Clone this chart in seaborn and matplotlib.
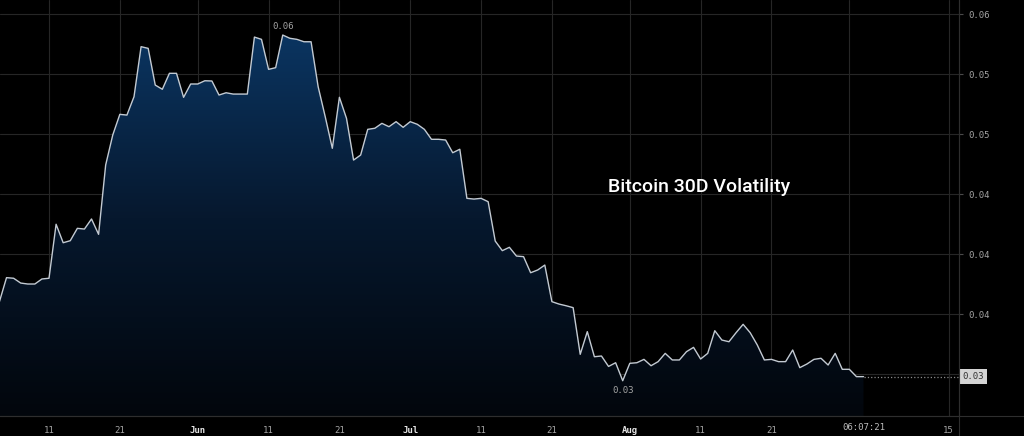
import matplotlib
matplotlib.use("Agg")
import matplotlib.dates as mdates
import matplotlib.pyplot as plt
import matplotlib.transforms as mtransforms
import numpy as np
import pandas as pd
import seaborn as sns
from matplotlib.colors import LinearSegmentedColormap
from matplotlib.lines import Line2D

# daily 30D volatility
start_date = "2021-05-04"
volatility = [
    0.03603, 0.03803, 0.03798, 0.03758, 0.03750, 0.03750, 0.03792, 0.03798,
    0.04248, 0.04094, 0.04111, 0.04214, 0.04208, 0.04292, 0.04164, 0.04742,
    0.04992, 0.05164, 0.05158, 0.05311, 0.05728, 0.05714, 0.05408, 0.05373,
    0.05506, 0.05506, 0.05306, 0.05417, 0.05417, 0.05444, 0.05442, 0.05325,
    0.05344, 0.05333, 0.05333, 0.05333, 0.05808, 0.05789, 0.05539, 0.05553,
    0.05825, 0.05798, 0.05789, 0.05769, 0.05769, 0.05394, 0.05144, 0.04881,
    0.05306, 0.05131, 0.04783, 0.04825, 0.05039, 0.05048, 0.05089, 0.05061,
    0.05103, 0.05056, 0.05103, 0.05081, 0.05039, 0.04956, 0.04956, 0.04950,
    0.04844, 0.04873, 0.04464, 0.04458, 0.04464, 0.04436, 0.04108, 0.04028,
    0.04056, 0.03983, 0.03978, 0.03844, 0.03867, 0.03908, 0.03603, 0.03583,
    0.03569, 0.03553, 0.03164, 0.03353, 0.03144, 0.03150, 0.03063, 0.03094,
    0.02944, 0.03089, 0.03094, 0.03122, 0.03069, 0.03103, 0.03172, 0.03117,
    0.03117, 0.03186, 0.03222, 0.03125, 0.03172, 0.03361, 0.03283, 0.03269,
    0.03344, 0.03414, 0.03344, 0.03242, 0.03117, 0.03122, 0.03103, 0.03103,
    0.03200, 0.03053, 0.03083, 0.03122, 0.03131, 0.03075, 0.03172, 0.03039,
    0.03039, 0.02978, 0.02978,
]

ytick_values = [0.030, 0.035, 0.040, 0.045, 0.050, 0.055, 0.060]
ytick_labels = ["0.03", "0.04", "0.04", "0.04", "0.05", "0.05", "0.06"]
xtick_dates = ["2021-05-11", "2021-05-21", "2021-06-01", "2021-06-11", "2021-06-21",
               "2021-07-01", "2021-07-11", "2021-07-21", "2021-08-01", "2021-08-11",
               "2021-08-21", "2021-09-01", "2021-09-15"]
xtick_labels = ["11", "21", "Jun", "11", "21", "Jul", "11", "21", "Aug", "11", "21", "", "15"]
month_labels = {"Jun", "Jul", "Aug"}
title = "Bitcoin 30D Volatility"
max_label = "0.06"
min_label = "0.03"
last_value_label = "0.03"
last_date_label = "06:07:21"

grid_color = "#262626"
label_color = "#a4a4a4"

sns.set_theme(style="dark", rc={"axes.facecolor": "black", "figure.facecolor": "black"})
plt.rcParams["font.family"] = ["DejaVu Sans Mono", "DejaVu Sans"]

df = pd.DataFrame({"date": pd.date_range(start_date, periods=len(volatility), freq="D"),
                   "vol": volatility})

fig = plt.figure(figsize=(10.24, 4.36), dpi=100, facecolor="black")
ax = fig.add_axes([0, 20 / 436, 959 / 1024, 416 / 436])
ax.set_facecolor("black")

x0 = mdates.date2num(pd.Timestamp(start_date)) + 0.08
x1 = x0 + 135.4
y0, y1 = 0.0265, 0.06117

# gradient fill under the line
poly = ax.fill_between(df["date"], df["vol"], y0, facecolor="none", edgecolor="none")
cmap = LinearSegmentedColormap.from_list("fade", ["#02060c", "#06182e", "#0b3765"])
grad = np.linspace(0, 1, 256).reshape(-1, 1)
img = ax.imshow(grad, extent=[x0, x1, y0, 0.0595], origin="lower", aspect="auto",
                cmap=cmap, zorder=1)
img.set_clip_path(poly.get_paths()[0], transform=ax.transData)

sns.lineplot(data=df, x="date", y="vol", ax=ax, color="#c3cad2", linewidth=1.0, zorder=3)

ax.set_xlim(x0, x1)
ax.set_ylim(y0, y1)
ax.set_xlabel("")
ax.set_ylabel("")

ax.set_xticks(mdates.date2num(pd.to_datetime(xtick_dates)))
ax.set_xticklabels(xtick_labels)
ax.yaxis.tick_right()
ax.set_yticks(ytick_values)
ax.set_yticklabels(ytick_labels)
ax.tick_params(axis="both", length=3, width=0.8, color="#4a4a4a", labelcolor=label_color,
               labelsize=6.5, pad=4)
for lab in ax.get_xticklabels():
    if lab.get_text() in month_labels:
        lab.set_color("#e6e6e6")
        lab.set_fontweight("bold")
# the boxed last value sits on top of the lowest tick label
ax.get_yticklabels()[0].set_visible(False)

ax.grid(True, color=grid_color, linewidth=0.8)
ax.set_axisbelow(True)
for side in ["top", "left"]:
    ax.spines[side].set_visible(False)
for side in ["right", "bottom"]:
    ax.spines[side].set_color("#2e2e2e")
    ax.spines[side].set_linewidth(0.8)

# lines running past the plot area
fig.add_artist(Line2D([0, 1], [20 / 436, 20 / 436], transform=fig.transFigure,
                      color="#2e2e2e", linewidth=0.8))
fig.add_artist(Line2D([959 / 1024, 959 / 1024], [0, 1], transform=fig.transFigure,
                      color="#2e2e2e", linewidth=0.8))

imax = int(np.argmax(volatility))
imin = int(np.argmin(volatility))
ax.annotate(max_label, xy=(df["date"][imax], volatility[imax]), xytext=(0, 3),
            textcoords="offset points", ha="center", va="bottom", fontsize=6.5, color=label_color)
ax.annotate(min_label, xy=(df["date"][imin], volatility[imin]), xytext=(0, -4),
            textcoords="offset points", ha="center", va="top", fontsize=6.5, color=label_color)

# last value marker
last_date = df["date"].iloc[-1]
last_val = volatility[-1]
ax.hlines(last_val, mdates.date2num(last_date), x1, colors="#8a8a8a", linestyles=":",
          linewidth=0.9, zorder=3)
trans_r = mtransforms.blended_transform_factory(ax.transAxes, ax.transData)
ax.text(1.004, last_val, last_value_label, transform=trans_r, ha="left", va="center",
        fontsize=6.5, color="#333333", zorder=5, clip_on=False,
        bbox=dict(boxstyle="square,pad=0.3", fc="#d4d4d4", ec="none"))
trans_b = mtransforms.blended_transform_factory(ax.transData, ax.transAxes)
ax.text(mdates.date2num(last_date), -0.027, last_date_label, transform=trans_b,
        ha="center", va="center", fontsize=6.5, color="#bdbdbd", clip_on=False)

fig.text(608 / 1024, 1 - 187 / 436, title, fontsize=14, color="white", fontweight="medium",
         family=["Roboto", "DejaVu Sans"], ha="left", va="center")

fig.savefig("out.png", dpi=100, facecolor="black")
